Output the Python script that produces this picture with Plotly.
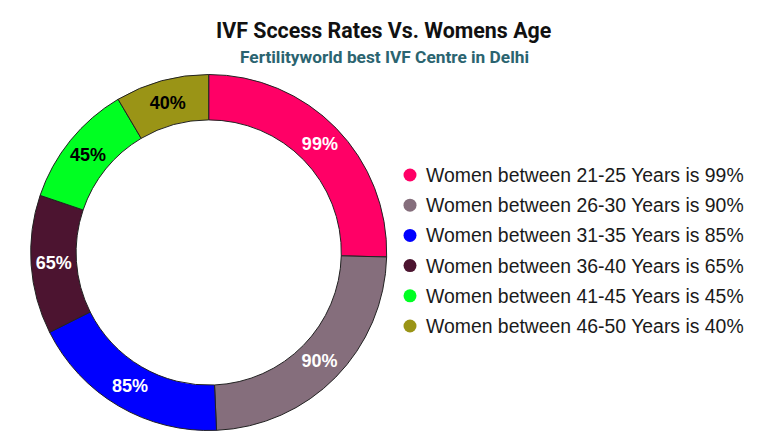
import plotly.graph_objects as go

# Data
age_groups = ["21-25", "26-30", "31-35", "36-40", "41-45", "46-50"]
success_rates = [99, 90, 85, 65, 45, 40]          # label values (%)
slice_shares = [25.4, 23.9, 18.3, 12.6, 11.3, 8.5]  # arc sizes as drawn
colors = ["#FF0066", "#856E7C", "#0000FF", "#4C1430", "#00FF22", "#9A9416"]
text_colors = ["white", "white", "white", "white", "black", "black"]

W, H = 768, 436
labels = [f"Women between {a} Years is {r}%" for a, r in zip(age_groups, success_rates)]
slice_text = [f"{r}%" for r in success_rates]

cx, cy, R = 208.7, 252.5, 178.0

fig = go.Figure()
fig.add_trace(go.Pie(
    values=slice_shares,
    labels=labels,
    text=slice_text,
    textinfo="text",
    textposition="inside",
    insidetextorientation="horizontal",
    textfont=dict(family="Liberation Sans, Arial", size=18, color=text_colors, weight="bold"),
    hole=0.745,
    sort=False,
    direction="clockwise",
    rotation=0,
    marker=dict(colors=colors, line=dict(color="#222222", width=1)),
    domain=dict(x=[(cx - R) / W, (cx + R) / W], y=[(H - cy - R) / H, (H - cy + R) / H]),
    showlegend=False,
    hoverinfo="label",
))

# Custom legend (circle markers)
leg_x, leg_y0, leg_dy = 410, 175, 30.2
fig.add_trace(go.Scatter(
    x=[leg_x] * len(labels),
    y=[leg_y0 + i * leg_dy for i in range(len(labels))],
    mode="markers",
    marker=dict(symbol="circle", size=13, color=colors, line=dict(width=0)),
    showlegend=False,
    hoverinfo="skip",
    cliponaxis=False,
))
for i, lab in enumerate(labels):
    fig.add_annotation(
        x=424, y=leg_y0 + i * leg_dy, xref="x", yref="y",
        text=lab, showarrow=False, xanchor="left", yanchor="middle",
        font=dict(family="Liberation Sans, Arial", size=19.4, color="#1a1a1a"),
    )

fig.add_annotation(
    x=0.5, y=1 - 30 / H, xref="paper", yref="paper",
    text="<b>IVF Sccess Rates Vs. Womens Age</b>", showarrow=False,
    xanchor="center", yanchor="middle",
    font=dict(family="Roboto", size=21.4, color="#111111"),
)
fig.add_annotation(
    x=0.5, y=1 - 57 / H, xref="paper", yref="paper",
    text="<b>Fertilityworld best IVF Centre in Delhi</b>", showarrow=False,
    xanchor="center", yanchor="middle",
    font=dict(family="Roboto", size=17.3, color="#2B6470"),
)

fig.update_layout(
    width=W, height=H,
    margin=dict(l=0, r=0, t=0, b=0),
    paper_bgcolor="white", plot_bgcolor="rgba(0,0,0,0)",
    showlegend=False,
    xaxis=dict(range=[0, W], visible=False, fixedrange=True, domain=[0, 1]),
    yaxis=dict(range=[H, 0], visible=False, fixedrange=True, domain=[0, 1]),
)

fig.write_html(
    "out.html",
    config={"displayModeBar": False},
    post_script="document.body.style.margin='0px';document.body.style.overflow='hidden';",
)
